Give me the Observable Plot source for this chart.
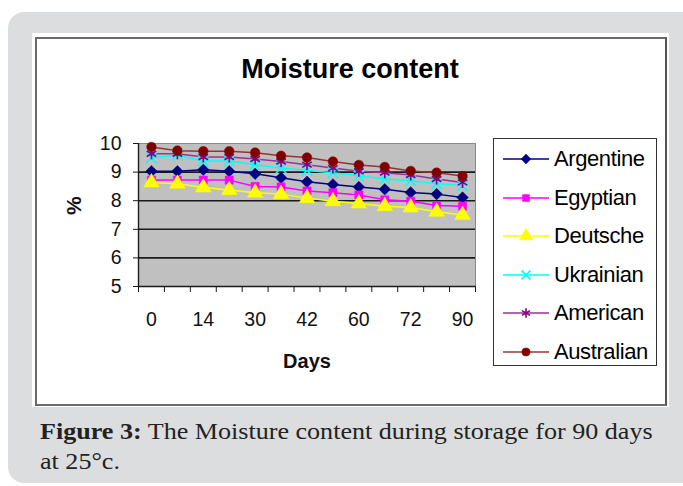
<!DOCTYPE html>
<html>
<head>
<meta charset="utf-8">
<script src="https://cdn.jsdelivr.net/npm/d3@7"></script>
<script src="https://cdn.jsdelivr.net/npm/@observablehq/plot@0.6"></script>
<style>
  html, body { margin: 0; padding: 0; background: #fff; width: 683px; height: 486px; overflow: hidden; }
  #panel { position: absolute; left: 8px; top: 12px; width: 700px; height: 471px; background: #dcdddf; border-radius: 16px; }
  #white { position: absolute; left: 32px; top: 33px; width: 637px; height: 374px; background: #fff; }
  #box { position: absolute; left: 35px; top: 37px; width: 628px; height: 365px; border: 2px solid #6a6a6a; border-right-color:#555; }
  #title { position: absolute; left: 0; width: 700px; top: 54px; text-align: center; font-family: "Liberation Sans Narrow", "Liberation Sans", Arial, sans-serif; font-weight: bold; font-size: 27px; color: #000; }
  #chart { position: absolute; left: 0; top: 0; }
  #legend { position: absolute; left: 493px; top: 138px; width: 162px; height: 226px; border: 1.5px solid #333; background: #fff; }
  .item { position: absolute; left: 8px; height: 24px; display: flex; align-items: center; font-family: "Liberation Sans", Arial, sans-serif; font-size: 22px; color: #000; letter-spacing: -0.4px; }
  .item svg { margin-right: 4px; }
  #caption { position: absolute; left: 40px; top: 416px; font-family: "Palatino Linotype", "Book Antiqua", "Liberation Serif", serif; font-size: 23.5px; line-height: 30px; color: #222; transform: scaleX(1.11); transform-origin: left top; white-space: nowrap; }
</style>
</head>
<body>
<div id="panel"></div>
<div id="white"></div>
<div id="box"></div>
<div id="title">Moisture content</div>
<div id="chart"></div>
<div id="legend"></div>
<div id="caption"><b>Figure 3:</b> The Moisture content during storage for 90 days<br>at 25°c.</div>
<script>
// Storage days (13 readings; only every other one is labelled on the axis)
const days = [0, 7, 14, 21, 30, 36, 42, 51, 60, 66, 72, 81, 90];
const yTicks = [5, 6, 7, 8, 9, 10];

const argentine  = [9.03, 9.03, 9.08, 9.03, 8.94, 8.80, 8.66, 8.57, 8.48, 8.40, 8.29, 8.23, 8.11];
const egyptian   = [8.72, 8.72, 8.72, 8.72, 8.50, 8.48, 8.34, 8.28, 8.20, 8.03, 7.98, 7.83, 7.81];
const deutsche   = [8.64, 8.59, 8.46, 8.37, 8.28, 8.23, 8.09, 7.98, 7.90, 7.81, 7.76, 7.61, 7.50];
const ukrainian  = [9.50, 9.59, 9.39, 9.39, 9.26, 9.14, 9.06, 8.98, 8.87, 8.76, 8.70, 8.59, 8.53];
const american   = [9.64, 9.64, 9.53, 9.53, 9.46, 9.37, 9.26, 9.14, 9.03, 8.98, 8.90, 8.76, 8.64];
const australian = [9.88, 9.75, 9.73, 9.73, 9.68, 9.57, 9.51, 9.37, 9.25, 9.18, 9.04, 8.98, 8.86];

const seriesNames = ["Argentine", "Egyptian", "Deutsche", "Ukrainian", "American", "Australian"];
const seriesValues = [argentine, egyptian, deutsche, ukrainian, american, australian];
const lineColors = ["#000080", "#ff00ff", "#ffff00", "#00ffff", "#993399", "#993333"];
const markColors = ["#000080", "#ff00ff", "#ffff00", "#00ffff", "#800080", "#800000"];
const symbols = ["diamond2", "square", "triangle", "times", "asterisk", "circle"];
const filled = [true, true, true, false, false, true];
const radii = [5.2, 4.6, 5.8, 4.8, 5.2, 4.8];

const marks = [
  Plot.frame({fill: "#c0c0c0", stroke: "#8a8a8a"}),
  Plot.ruleY([6, 7, 8, 9], {stroke: "#1a1a1a", strokeWidth: 1.6}),
  Plot.ruleY([5], {stroke: "#1a1a1a", strokeWidth: 1.4}),
  Plot.ruleX([-0.5], {stroke: "#1a1a1a", strokeWidth: 1.4}),
  Plot.axisY({ticks: yTicks, tickSize: 5, tickPadding: 12, tickFormat: d3.format("d"), fontSize: 19.5, stroke: "#1a1a1a", color: "#111", label: null}),
  Plot.axisX({ticks: d3.range(-0.5, 13, 1), tickSize: 6, tickFormat: () => "", stroke: "#1a1a1a", label: null}),
  Plot.axisX({ticks: d3.range(0, 13, 2), tickSize: 0, tickPadding: 26, tickFormat: i => String(days[i]), fontSize: 19.5, color: "#111", label: null}),
  Plot.text(["Days"], {frameAnchor: "bottom", dy: 81, fontSize: 20, fontWeight: "bold", fill: "#111"}),
  Plot.text(["%"], {frameAnchor: "left", dx: -64, rotate: -90, fontSize: 21, fontWeight: "bold", fill: "#111"})
];

seriesValues.forEach((vals, s) => {
  const data = vals.map((v, i) => ({i, v}));
  marks.push(Plot.line(data, {x: "i", y: "v", stroke: lineColors[s], strokeWidth: 1.5}));
});
seriesValues.forEach((vals, s) => {
  const data = vals.map((v, i) => ({i, v}));
  marks.push(Plot.dot(data, {
    x: "i", y: "v", symbol: symbols[s], r: radii[s],
    fill: filled[s] ? markColors[s] : "none",
    stroke: markColors[s], strokeWidth: filled[s] ? 0.5 : 1.6
  }));
});

const chart = Plot.plot({
  width: 683, height: 400,
  marginLeft: 138, marginRight: 208, marginTop: 143, marginBottom: 114,
  style: {fontFamily: "'Liberation Sans', Arial, sans-serif", background: "transparent", overflow: "visible"},
  x: {type: "linear", domain: [-0.5, 12.5]},
  y: {domain: [5, 10]},
  marks
});
document.getElementById("chart").appendChild(chart);

// Legend
const symMap = {diamond2: d3.symbolDiamond2, square: d3.symbolSquare, triangle: d3.symbolTriangle, times: d3.symbolTimes, asterisk: d3.symbolAsterisk, circle: d3.symbolCircle};
const legend = document.getElementById("legend");
seriesNames.forEach((name, s) => {
  const row = document.createElement("div");
  row.className = "item";
  row.style.top = (8 + s * 38.5) + "px";
  const r = radii[s] * 0.85;
  const path = d3.symbol(symMap[symbols[s]], Math.PI * r * r)();
  row.innerHTML = `<svg width="48" height="20"><line x1="1" x2="47" y1="10" y2="10" stroke="${lineColors[s]}" stroke-width="1.5"/>` +
    `<path transform="translate(24,10)" d="${path}" fill="${filled[s] ? markColors[s] : "none"}" stroke="${markColors[s]}" stroke-width="${filled[s] ? 0.5 : 1.6}"/></svg><span>${name}</span>`;
  legend.appendChild(row);
});
</script>
</body>
</html>
